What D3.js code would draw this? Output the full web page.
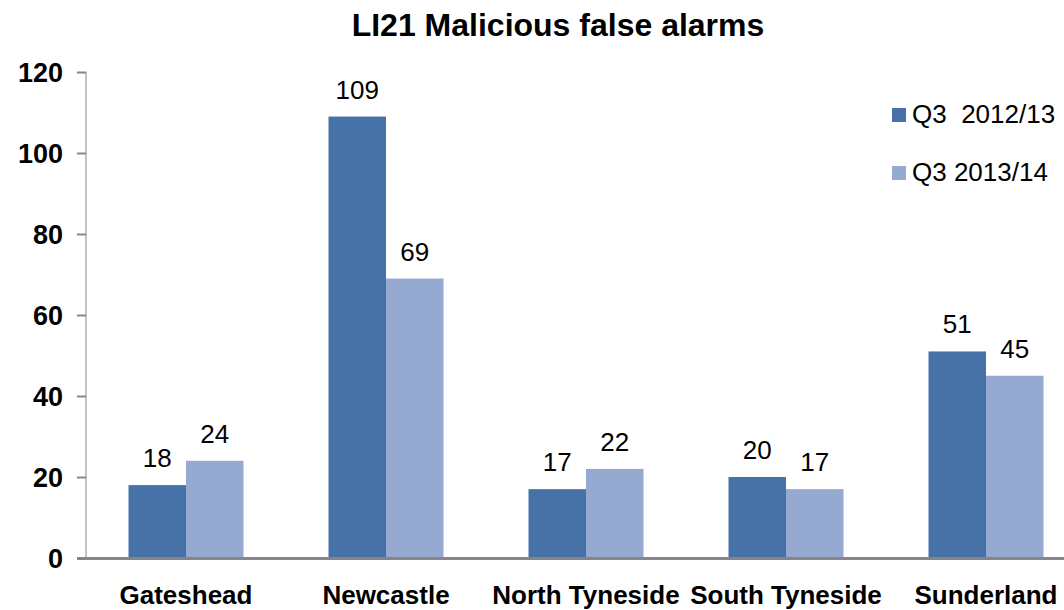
<!DOCTYPE html>
<html>
<head>
<meta charset="utf-8">
<script src="https://cdn.jsdelivr.net/npm/d3@7"></script>
<style>
  body { margin: 0; background: #ffffff; }
  text { font-family: "Liberation Sans", Arial, sans-serif; fill: #000000; }
</style>
</head>
<body>
<div id="chart"></div>
<script>
// Data
var areas = ["Gateshead", "Newcastle", "North Tyneside", "South Tyneside", "Sunderland"];
var seriesNames = ["Q3  2012/13", "Q3 2013/14"];
var q3_2012 = [18, 109, 17, 20, 51];
var q3_2013 = [24, 69, 22, 17, 45];
var yTicks = [0, 20, 40, 60, 80, 100, 120];
var colors = ["#4672a7", "#95a9d1"];

var svgWidth = 1064;
var svgHeight = 610;

var margin = {
  top: 72,
  right: 0,
  bottom: 52,
  left: 86
};

var height = svgHeight - margin.top - margin.bottom;

var svg = d3.select("#chart")
  .append("svg")
  .attr("width", svgWidth)
  .attr("height", svgHeight);

var chartGroup = svg.append("g")
  .attr("transform", `translate(${margin.left}, ${margin.top})`);

// Build rows for the grouped bars
var rows = areas.map(function(a, i) {
  return { area: a, values: [q3_2012[i], q3_2013[i]] };
});

// Plot runs past the right edge of the picture (one step per area = 200px)
var x0 = d3.scaleBand()
  .domain(areas)
  .range([0, 1000])
  .paddingInner(0.425)
  .paddingOuter(0.2125);

var x1 = d3.scaleBand()
  .domain([0, 1])
  .range([0, x0.bandwidth()]);

var yLinearScale = d3.scaleLinear()
  .domain([0, 120])
  .range([height, 0]);

// Y axis
var leftAxis = d3.axisLeft(yLinearScale)
  .tickValues(yTicks)
  .tickSize(9)
  .tickPadding(14);

var yAxis = chartGroup.append("g").call(leftAxis);
yAxis.select(".domain").attr("stroke", "#868686").attr("d", `M0,0V${height}`);
yAxis.selectAll(".tick line").attr("stroke", "#868686").attr("stroke-width", 2);
yAxis.selectAll(".tick text")
  .attr("font-size", "27px")
  .attr("font-weight", "bold")
  .attr("font-family", "'Liberation Sans', Arial, sans-serif")
  .attr("dy", "0.36em");

// Bars
var groups = chartGroup.selectAll(".area")
  .data(rows)
  .enter()
  .append("g")
  .attr("class", "area")
  .attr("transform", d => `translate(${x0(d.area)}, 0)`);

groups.selectAll("rect")
  .data(d => d.values)
  .enter()
  .append("rect")
  .attr("x", (d, i) => x1(i))
  .attr("y", d => yLinearScale(d))
  .attr("width", x1.bandwidth())
  .attr("height", d => height - yLinearScale(d))
  .attr("fill", (d, i) => colors[i]);

// Value labels
groups.selectAll(".valueText")
  .data(d => d.values)
  .enter()
  .append("text")
  .attr("class", "valueText")
  .attr("x", (d, i) => x1(i) + x1.bandwidth() / 2)
  .attr("y", d => yLinearScale(d) - 18)
  .attr("text-anchor", "middle")
  .attr("font-size", "26px")
  .text(d => d);

// Baseline (drawn after bars so it sits on top)
chartGroup.append("line")
  .attr("x1", -9)
  .attr("x2", svgWidth)
  .attr("y1", height + 0.5)
  .attr("y2", height + 0.5)
  .attr("stroke", "#868686")
  .attr("stroke-width", 3);

// Category labels
chartGroup.selectAll(".areaText")
  .data(areas)
  .enter()
  .append("text")
  .attr("class", "areaText")
  .attr("x", d => x0(d) + x0.bandwidth() / 2)
  .attr("y", height + 46)
  .attr("text-anchor", "middle")
  .attr("font-size", "26px")
  .attr("font-weight", "bold")
  .text(d => d);

// Title
svg.append("text")
  .attr("x", 558)
  .attr("y", 36)
  .attr("text-anchor", "middle")
  .attr("font-size", "32px")
  .attr("font-weight", "bold")
  .text("LI21 Malicious false alarms");

// Legend
var legend = svg.append("g")
  .attr("transform", "translate(892, 108)");

var legendItems = legend.selectAll("g")
  .data(seriesNames)
  .enter()
  .append("g")
  .attr("transform", (d, i) => `translate(0, ${i * 58})`);

legendItems.append("rect")
  .attr("width", 14)
  .attr("height", 14)
  .attr("fill", (d, i) => colors[i]);

legendItems.append("text")
  .attr("x", 20)
  .attr("y", 15)
  .attr("font-size", "26px")
  .style("white-space", "pre")
  .text(d => d);
</script>
</body>
</html>
